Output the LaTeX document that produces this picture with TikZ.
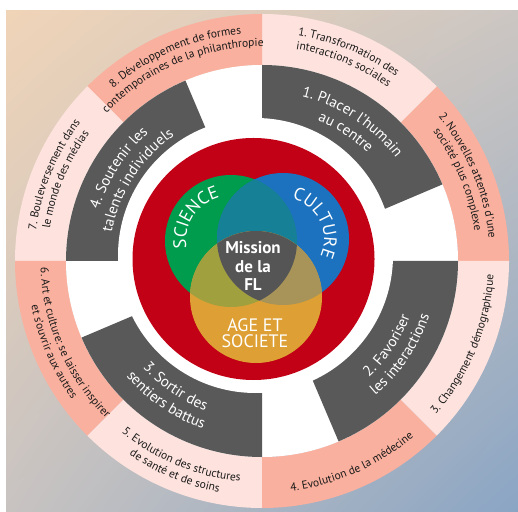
\documentclass[tikz,border=0pt]{standalone}
\usepackage{fontspec}
\setmainfont{PT Sans}
\usetikzlibrary{decorations.text}
\usetikzlibrary{shadings}

\definecolor{ringlight}{RGB}{253,226,221}
\definecolor{ringdark}{RGB}{250,176,158}
\definecolor{blockgrey}{RGB}{89,89,89}
\definecolor{flred}{RGB}{194,0,22}
\definecolor{sciencegreen}{RGB}{0,156,78}
\definecolor{cultureblue}{RGB}{28,114,190}
\definecolor{ageorange}{RGB}{222,160,52}
\definecolor{scicul}{RGB}{22,128,150}
\definecolor{sciage}{RGB}{160,160,62}
\definecolor{culage}{RGB}{168,148,88}
\definecolor{missiongrey}{RGB}{85,85,85}
\definecolor{bgpeach}{RGB}{240,212,184}
\definecolor{bgtopright}{RGB}{204,198,194}
\definecolor{bgbottomleft}{RGB}{200,195,193}
\definecolor{bgblue}{RGB}{138,165,196}
\definecolor{ringink}{RGB}{26,26,26}

\newcommand\ringfont{\fontsize{11.5}{13}\selectfont\color{ringink}}
\newcommand\blockfont{\fontsize{15}{17}\selectfont\color{white}}
\newcommand\vennfont{\fontsize{18}{20}\selectfont\color{white}}

\begin{document}
\begin{tikzpicture}[x=1pt, y=1pt,
      ringtext/.style={decorate,
        decoration={text along path, text align=center, text={|\ringfont|#1}}},
      blocktext/.style={decorate,
        decoration={text along path, text align=center, text={|\blockfont|#1}}},
      venntext/.style={decorate,
        decoration={text along path, text align=center, text={|\vennfont|#1}}},
      vennlabel/.style={text=white, align=center, inner sep=0pt}]

    \useasboundingbox (0,0) rectangle (518,511);
    \shade[upper left=bgpeach, upper right=bgtopright,
      lower left=bgbottomleft, lower right=bgblue] (6,0) rectangle (518,500);

    \coordinate (c) at (262,250);
    \coordinate (hole) at (255.5,255.5);
    \coordinate (v) at (253.5,252);
    \coordinate (sci) at (231,270);
    \coordinate (cul) at (283,272);
    \coordinate (soc) at (256,214);

    % outer ring: eight trends
    \foreach \a/\col in {0/ringdark,45/ringlight,90/ringdark,135/ringlight,
        180/ringdark,225/ringlight,270/ringdark,315/ringlight}
      \fill[\col] ([shift={(\a:247)}]c) arc[start angle=\a, end angle=\a+45, radius=247]
        -- ([shift={(\a+45:196)}]c) arc[start angle=\a+45, end angle=\a, radius=196] -- cycle;
    \fill[white] (c) circle[radius=196];

    % four grey blocks
    \foreach \a in {23,-67,203,113}
      \fill[blockgrey] (c) -- ([shift={(\a:196)}]c) arc[start angle=\a, end angle=\a+67, radius=196] -- cycle;
    \fill[white] (hole) circle[radius=137.5];

    \fill[flred] (v) circle[radius=121];

    % venn
    \fill[sciencegreen] (sci) circle[radius=66];
    \fill[cultureblue] (cul) circle[radius=66];
    \fill[ageorange] (soc) circle[radius=66];
    \begin{scope}
      \clip (sci) circle[radius=66];
      \fill[scicul] (cul) circle[radius=66];
      \fill[sciage] (soc) circle[radius=66];
    \end{scope}
    \begin{scope}
      \clip (cul) circle[radius=66];
      \fill[culage] (soc) circle[radius=66];
      \clip (sci) circle[radius=66];
      \fill[missiongrey] (soc) circle[radius=66];
    \end{scope}

    \path[venntext={SCIENCE}] ([shift={(227:45)}]sci) arc[start angle=227, end angle=67, radius=45];
    \path[venntext={CULTURE}] ([shift={(106:41)}]cul) arc[start angle=106, end angle=-54, radius=41];
    \node[vennlabel, font=\fontsize{18}{15.5}\selectfont] (agelabel) at (255,178) {AGE ET\\SOCIETE};
    \node[vennlabel, font=\bfseries\fontsize{17}{18.5}\selectfont] (mission) at (253,245) {Mission\\de la\\FL};

    % outer ring texts
    \path[ringtext={1. Transformation des}] ([shift={(117.5:228)}]c) arc[start angle=117.5, end angle=17.5, radius=228];
    \path[ringtext={interactions sociales}] ([shift={(117.5:214.5)}]c) arc[start angle=117.5, end angle=17.5, radius=214.5];
    \path[ringtext={2. Nouvelles attentes d'une}] ([shift={(72.5:228)}]c) arc[start angle=72.5, end angle=-27.5, radius=228];
    \path[ringtext={société plus complexe}] ([shift={(72.5:214.5)}]c) arc[start angle=72.5, end angle=-27.5, radius=214.5];
    \path[ringtext={3. Changement démographique}] ([shift={(-72.5:232)}]c) arc[start angle=-72.5, end angle=27.5, radius=232];
    \path[ringtext={4. Evolution de la médecine}] ([shift={(-116:232)}]c) arc[start angle=-116, end angle=-16, radius=232];
    \path[ringtext={5. Evolution des structures}] ([shift={(-162.5:221.5)}]c) arc[start angle=-162.5, end angle=-62.5, radius=221.5];
    \path[ringtext={de santé et de soins}] ([shift={(-162.5:235)}]c) arc[start angle=-162.5, end angle=-62.5, radius=235];
    \path[ringtext={6. Art et culture: se laisser inspirer}] ([shift={(-206.5:221.5)}]c) arc[start angle=-206.5, end angle=-106.5, radius=221.5];
    \path[ringtext={et s'ouvrir aux autres}] ([shift={(-206.5:235)}]c) arc[start angle=-206.5, end angle=-106.5, radius=235];
    \path[ringtext={7. Bouleversement dans}] ([shift={(207.5:228)}]c) arc[start angle=207.5, end angle=107.5, radius=228];
    \path[ringtext={le monde des médias}] ([shift={(207.5:214.5)}]c) arc[start angle=207.5, end angle=107.5, radius=214.5];
    \path[ringtext={8. Développement de formes}] ([shift={(163:228)}]c) arc[start angle=163, end angle=63, radius=228];
    \path[ringtext={contemporaines de la philanthropie}] ([shift={(163:214.5)}]c) arc[start angle=163, end angle=63, radius=214.5];

    % grey block texts
    \path[blocktext={1. Placer l'humain}] ([shift={(107:169)}]c) arc[start angle=107, end angle=7, radius=169];
    \path[blocktext={au centre}] ([shift={(107:151)}]c) arc[start angle=107, end angle=7, radius=151];
    \path[blocktext={2. Favoriser}] ([shift={(-84:158)}]c) arc[start angle=-84, end angle=16, radius=158];
    \path[blocktext={les interactions}] ([shift={(-84:176)}]c) arc[start angle=-84, end angle=16, radius=176];
    \path[blocktext={3. Sortir des}] ([shift={(-174.5:160)}]c) arc[start angle=-174.5, end angle=-74.5, radius=160];
    \path[blocktext={sentiers battus}] ([shift={(-174.5:178)}]c) arc[start angle=-174.5, end angle=-74.5, radius=178];
    \path[blocktext={4. Soutenir les}] ([shift={(197:171)}]c) arc[start angle=197, end angle=97, radius=171];
    \path[blocktext={talents individuels}] ([shift={(197:153)}]c) arc[start angle=197, end angle=97, radius=153];

  \end{tikzpicture}
\end{document}
